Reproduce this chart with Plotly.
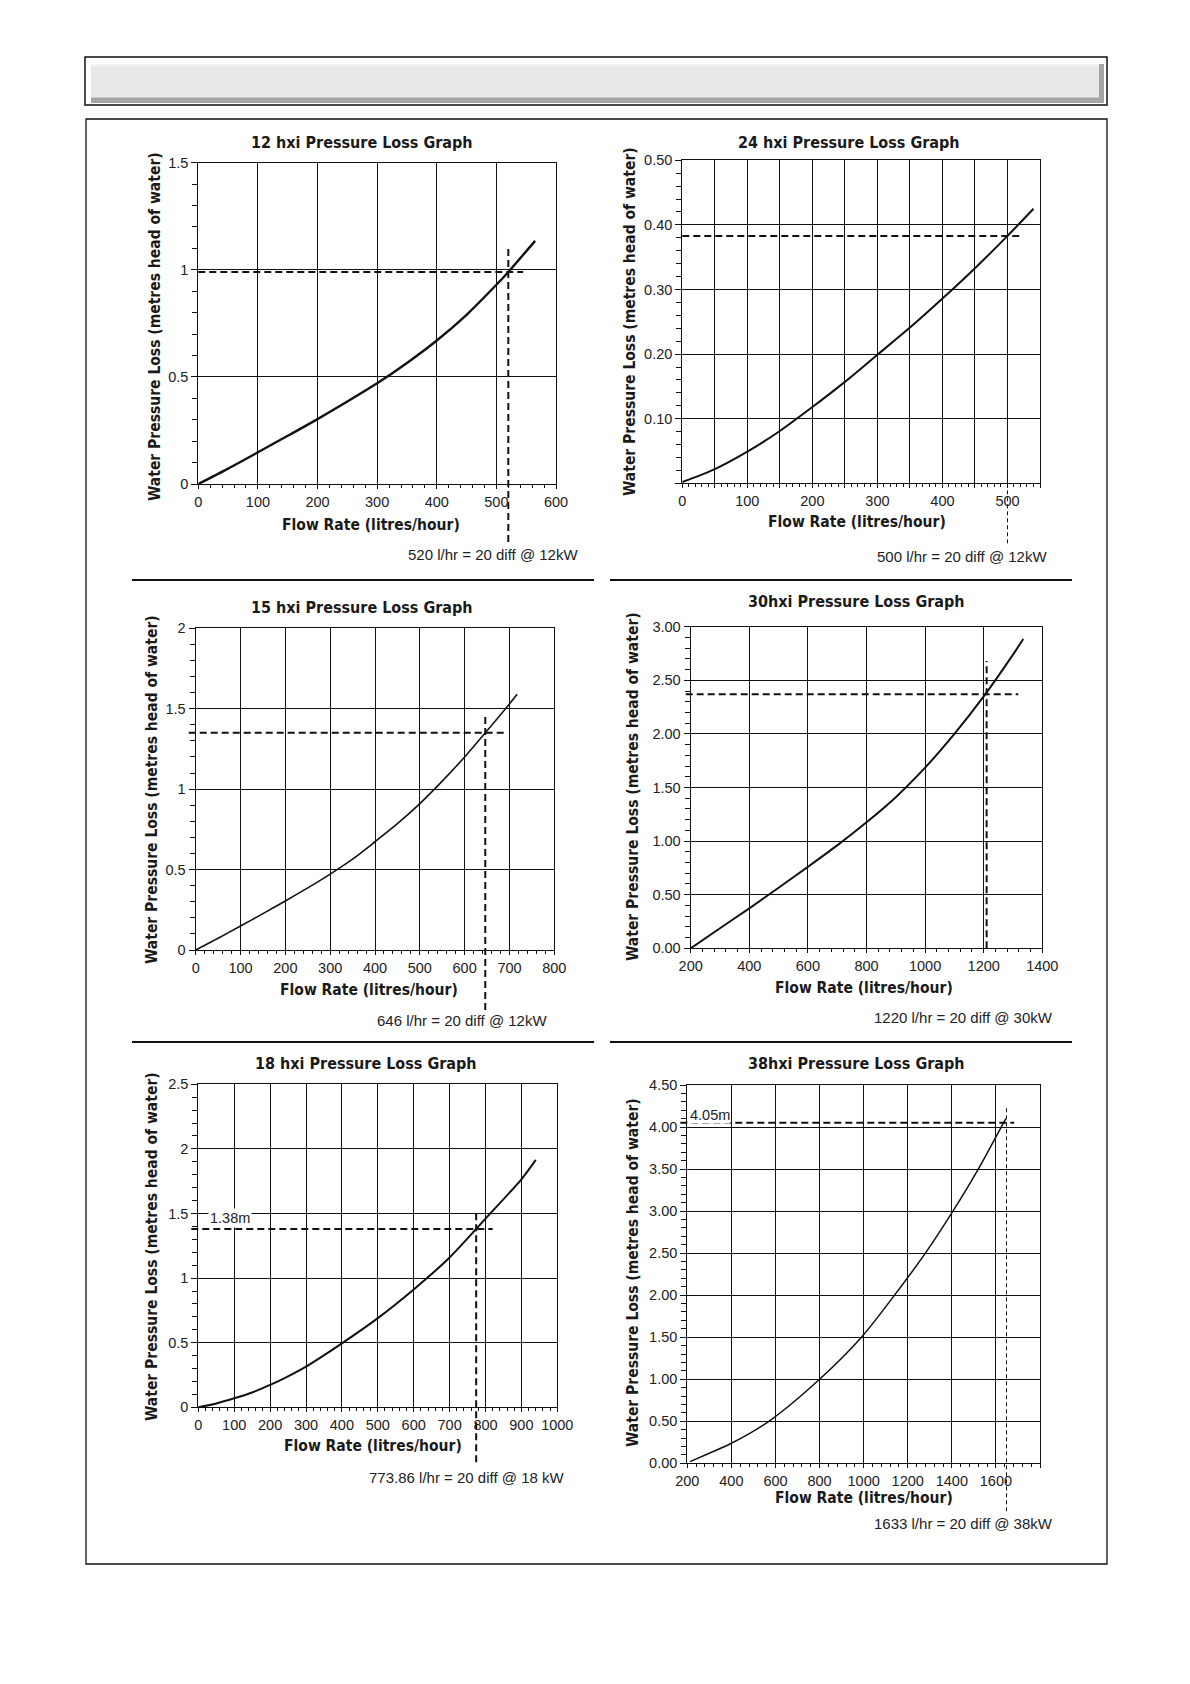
import plotly.graph_objects as go

# ---------------- data ----------------
flow_12 = [0, 50, 100, 150, 200, 250, 300, 350, 400, 450, 500, 520, 565]
loss_12 = [0, 0.072, 0.148, 0.225, 0.303, 0.385, 0.47, 0.565, 0.67, 0.79, 0.93, 0.99, 1.135]

flow_24 = [0, 50, 100, 150, 200, 250, 300, 350, 400, 450, 500, 540]
loss_24 = [0.002, 0.022, 0.049, 0.081, 0.118, 0.157, 0.199, 0.241, 0.286, 0.333, 0.383, 0.425]

flow_15 = [0, 50, 100, 150, 200, 250, 300, 350, 400, 450, 500, 550, 600, 646, 700, 717]
loss_15 = [0, 0.073, 0.149, 0.226, 0.305, 0.386, 0.472, 0.565, 0.673, 0.785, 0.91, 1.05, 1.2, 1.35, 1.53, 1.59]

flow_30 = [200, 300, 400, 500, 600, 700, 800, 900, 1000, 1100, 1200, 1300, 1335]
loss_30 = [0, 0.187, 0.373, 0.565, 0.76, 0.96, 1.175, 1.41, 1.685, 2.0, 2.35, 2.74, 2.885]

flow_18 = [0, 50, 100, 150, 200, 250, 300, 400, 500, 600, 700, 774, 800, 900, 940]
loss_18 = [0, 0.03, 0.07, 0.115, 0.173, 0.24, 0.315, 0.495, 0.69, 0.912, 1.16, 1.38, 1.46, 1.765, 1.915]

flow_38 = [212, 300, 400, 570, 800, 990, 1140, 1280, 1405, 1520, 1624, 1645]
loss_38 = [0.02, 0.12, 0.238, 0.5, 1.0, 1.5, 2.0, 2.5, 3.0, 3.5, 4.0, 4.1]

# design point guides: (flow, loss)
design_12 = (520, 0.99)
design_24 = (500, 0.383)
design_15 = (646, 1.35)
design_30 = (1210, 2.37)
design_18 = (774, 1.38)
design_38 = (1648, 4.05)

titles = ["12 hxi Pressure Loss Graph", "24 hxi Pressure Loss Graph",
          "15 hxi Pressure Loss Graph", "30hxi Pressure Loss Graph",
          "18 hxi Pressure Loss Graph", "38hxi Pressure Loss Graph"]
notes = ["520 l/hr = 20 diff @ 12kW", "500 l/hr = 20 diff @ 12kW",
         "646 l/hr = 20 diff @ 12kW", "1220 l/hr = 20 diff @ 30kW",
         "773.86 l/hr = 20 diff @ 18 kW", "1633 l/hr = 20 diff @ 38kW"]
x_title = "Flow Rate (litres/hour)"
y_title = "Water Pressure Loss (metres head of water)"

# tick values / labels
xt_12 = [0, 100, 200, 300, 400, 500, 600]
xl_12 = ["0", "100", "200", "300", "400", "500", "600"]
yt_12 = [0, 0.5, 1, 1.5]
yl_12 = ["0", "0.5", "1", "1.5"]

xt_24 = [0, 50, 100, 150, 200, 250, 300, 350, 400, 450, 500, 550]
xl_24 = ["0", "", "100", "", "200", "", "300", "", "400", "", "500", ""]
yt_24 = [0, 0.1, 0.2, 0.3, 0.4, 0.5]
yl_24 = ["", "0.10", "0.20", "0.30", "0.40", "0.50"]

xt_15 = [0, 100, 200, 300, 400, 500, 600, 700, 800]
xl_15 = ["0", "100", "200", "300", "400", "500", "600", "700", "800"]
yt_15 = [0, 0.5, 1, 1.5, 2]
yl_15 = ["0", "0.5", "1", "1.5", "2"]

xt_30 = [200, 400, 600, 800, 1000, 1200, 1400]
xl_30 = ["200", "400", "600", "800", "1000", "1200", "1400"]
yt_30 = [0, 0.5, 1, 1.5, 2, 2.5, 3]
yl_30 = ["0.00", "0.50", "1.00", "1.50", "2.00", "2.50", "3.00"]

xt_18 = [0, 100, 200, 300, 400, 500, 600, 700, 800, 900, 1000]
xl_18 = ["0", "100", "200", "300", "400", "500", "600", "700", "800", "900", "1000"]
yt_18 = [0, 0.5, 1, 1.5, 2, 2.5]
yl_18 = ["0", "0.5", "1", "1.5", "2", "2.5"]

xt_38 = [200, 400, 600, 800, 1000, 1200, 1400, 1600, 1800]
xl_38 = ["200", "400", "600", "800", "1000", "1200", "1400", "1600", ""]
yt_38 = [0, 0.5, 1, 1.5, 2, 2.5, 3, 3.5, 4, 4.5]
yl_38 = ["0.00", "0.50", "1.00", "1.50", "2.00", "2.50", "3.00", "3.50", "4.00", "4.50"]

label_18 = "1.38m"
label_38 = "4.05m"

# ---------------- layout helpers ----------------
W, H = 1190, 1684
OFF = 8  # page body margin offset
def PX(x):
    return (x - OFF) / W
def PY(y):
    return 1 - (y - OFF) / H

TITLE_FONT = dict(family="Liberation Sans Narrow, DejaVu Sans Condensed, Arial Narrow, sans-serif",
                  size=16, color="#1a1a1a")
AXT_FONT = dict(family="Liberation Sans Narrow, DejaVu Sans Condensed, Arial Narrow, sans-serif",
                size=15.5, color="#1a1a1a")
TICK_FONT = dict(family="Liberation Sans, Arial, Helvetica, sans-serif", size=14.5, color="#222222")
NOTE_FONT = dict(family="Liberation Sans, Arial, Helvetica, sans-serif", size=15, color="#222222")

panels = [
    dict(fx=flow_12, fy=loss_12, xt=xt_12, xl=xl_12, yt=yt_12, yl=yl_12,
         xr=[0, 600], yr=[0, 1.5], xminor=20, yminor=0.1,
         box=(198.3, 162.7, 556, 484), lw=2.4, design=design_12,
         h_start=0, h_end=545, v_top=1.1, v_ext=58, h_w=2, v_w=2, v_dash="7px,4px",
         title_xy=(362, 143), xt_xy=(371, 525), yt_xy=(155, 327), note_xy=(580, 554)),
    dict(fx=flow_24, fy=loss_24, xt=xt_24, xl=xl_24, yt=yt_24, yl=yl_24,
         xr=[0, 550], yr=[0, 0.5], xminor=10, yminor=0.02,
         box=(682.3, 160.3, 1040, 483.3), lw=2, design=design_24,
         h_start=0, h_end=523, v_top=0.397, v_ext=60, h_w=2, v_w=1, v_dash="4px,3px",
         title_xy=(849, 143), xt_xy=(857, 522), yt_xy=(630, 322), note_xy=(1049, 556)),
    dict(fx=flow_15, fy=loss_15, xt=xt_15, xl=xl_15, yt=yt_15, yl=yl_15,
         xr=[0, 800], yr=[0, 2], xminor=20, yminor=0.1,
         box=(195.7, 628.3, 554.3, 950), lw=1.6, design=design_15,
         h_start=-7, h_end=690, v_top=1.455, v_ext=60, h_w=2, v_w=2, v_dash="7px,4px",
         title_xy=(362, 607), xt_xy=(369, 990), yt_xy=(152, 790), note_xy=(549, 1020)),
    dict(fx=flow_30, fy=loss_30, xt=xt_30, xl=xl_30, yt=yt_30, yl=yl_30,
         xr=[200, 1400], yr=[0, 3], xminor=40, yminor=0.1,
         box=(690.7, 626.7, 1042.3, 948.3), lw=2, design=design_30,
         h_start=-5, h_end=1318, v_top=2.68, v_ext=0, h_w=2, v_w=2, v_dash="7px,4px",
         title_xy=(856, 602), xt_xy=(864, 988), yt_xy=(633, 787), note_xy=(1055, 1017)),
    dict(fx=flow_18, fy=loss_18, xt=xt_18, xl=xl_18, yt=yt_18, yl=yl_18,
         xr=[0, 1000], yr=[0, 2.5], xminor=20, yminor=0.1,
         box=(198.3, 1084.3, 557.3, 1407.3), lw=2, design=design_18,
         h_start=-7, h_end=820, v_top=1.5, v_ext=55, h_w=2, v_w=2, v_dash="7px,4px",
         title_xy=(366, 1063), xt_xy=(373, 1446), yt_xy=(152, 1247), note_xy=(566, 1477)),
    dict(fx=flow_38, fy=loss_38, xt=xt_38, xl=xl_38, yt=yt_38, yl=yl_38,
         xr=[200, 1800], yr=[0, 4.5], xminor=40, yminor=0.1,
         box=(687.3, 1085, 1040, 1463.3), lw=1.5, design=design_38,
         h_start=-7, h_end=1683, v_top=4.25, v_ext=48, h_w=2, v_w=1, v_dash="4px,3px",
         title_xy=(856, 1063), xt_xy=(864, 1498), yt_xy=(633, 1273), note_xy=(1055, 1523)),
]

fig = go.Figure()
layout = dict(width=W, height=H, autosize=False,
              margin=dict(l=0, r=0, t=0, b=0, pad=0, autoexpand=False),
              paper_bgcolor="white", plot_bgcolor="white", showlegend=False)
shapes = []
annotations = []

# header bar and frames
shapes.append(dict(type="rect", xref="paper", yref="paper", x0=PX(85), x1=PX(1107), y0=PY(57), y1=PY(105),
                   line=dict(color="#111111", width=1.5), fillcolor="white", layer="below"))
shapes.append(dict(type="rect", xref="paper", yref="paper", x0=PX(91), x1=PX(1104), y0=PY(64), y1=PY(103),
                   line=dict(width=0), fillcolor="#a6a6a6", layer="below"))
shapes.append(dict(type="rect", xref="paper", yref="paper", x0=PX(91), x1=PX(1099), y0=PY(64), y1=PY(97.5),
                   line=dict(width=0), fillcolor="#e8e8e8", layer="below"))
shapes.append(dict(type="rect", xref="paper", yref="paper", x0=PX(91), x1=PX(1099), y0=PY(64), y1=PY(66.5),
                   line=dict(width=0), fillcolor="#f2f2f2", layer="below"))
shapes.append(dict(type="rect", xref="paper", yref="paper", x0=PX(86), x1=PX(1107), y0=PY(119), y1=PY(1564),
                   line=dict(color="#111111", width=1.3), fillcolor="rgba(0,0,0,0)", layer="below"))
for yy in (580, 1042):
    shapes.append(dict(type="line", xref="paper", yref="paper", x0=PX(132), x1=PX(594), y0=PY(yy), y1=PY(yy),
                       line=dict(color="#111111", width=1.8)))
    shapes.append(dict(type="line", xref="paper", yref="paper", x0=PX(610), x1=PX(1072), y0=PY(yy), y1=PY(yy),
                       line=dict(color="#111111", width=1.8)))

for i, p in enumerate(panels):
    n = "" if i == 0 else str(i + 1)
    xa, ya = "x" + n, "y" + n
    xl_, yt_, xr_, yb_ = p["box"]
    fig.add_trace(go.Scatter(x=p["fx"], y=p["fy"], mode="lines", xaxis=xa, yaxis=ya,
                             line=dict(color="#111111", width=p["lw"], shape="spline", smoothing=0.8),
                             hoverinfo="skip"))
    common = dict(showgrid=True, gridcolor="#111111", gridwidth=1, zeroline=False,
                  showline=True, linecolor="#111111", linewidth=1.2, mirror=True,
                  ticks="outside", tickcolor="#111111", tickwidth=1, automargin=False,
                  tickmode="array", tickfont=TICK_FONT, fixedrange=True)
    layout["xaxis" + n] = dict(common, domain=[PX(xl_), PX(xr_)], range=p["xr"], anchor=ya,
                               tickvals=p["xt"], ticktext=p["xl"], ticklen=4,
                               minor=dict(tickmode="linear", tick0=p["xr"][0], dtick=p["xminor"],
                                          ticks="outside", ticklen=3, tickcolor="#111111", showgrid=False))
    layout["yaxis" + n] = dict(common, domain=[PY(yb_), PY(yt_)], range=p["yr"], anchor=xa,
                               tickvals=p["yt"], ticktext=p["yl"], ticklen=6,
                               minor=dict(tickmode="linear", tick0=0, dtick=p["yminor"],
                                          ticks="outside", ticklen=5, tickcolor="#111111", showgrid=False))
    # design point guides
    dx, dy = p["design"]
    wpx = xr_ - xl_
    hpx = yb_ - yt_
    xspan = p["xr"][1] - p["xr"][0]
    yspan = p["yr"][1] - p["yr"][0]
    shapes.append(dict(type="line", xref=xa + " domain", yref=ya,
                       x0=p["h_start"] / wpx, x1=(p["h_end"] - p["xr"][0]) / xspan, y0=dy, y1=dy,
                       line=dict(color="#111111", width=p["h_w"], dash="7px,4px")))
    shapes.append(dict(type="line", xref=xa, yref=ya + " domain",
                       x0=dx, x1=dx, y0=-p["v_ext"] / hpx, y1=(p["v_top"] - p["yr"][0]) / yspan,
                       line=dict(color="#111111", width=p["v_w"], dash=p["v_dash"])))
    # texts
    tx, ty = p["title_xy"]
    annotations.append(dict(text="<b>" + titles[i] + "</b>", x=PX(tx), y=PY(ty), xref="paper", yref="paper",
                            showarrow=False, font=TITLE_FONT, xanchor="center", yanchor="middle"))
    tx, ty = p["xt_xy"]
    annotations.append(dict(text="<b>" + x_title + "</b>", x=PX(tx), y=PY(ty), xref="paper", yref="paper",
                            showarrow=False, font=AXT_FONT, xanchor="center", yanchor="middle"))
    tx, ty = p["yt_xy"]
    annotations.append(dict(text="<b>" + y_title + "</b>", x=PX(tx), y=PY(ty), xref="paper", yref="paper",
                            showarrow=False, font=AXT_FONT, textangle=-90, xanchor="center", yanchor="middle"))
    tx, ty = p["note_xy"]
    annotations.append(dict(text=notes[i], x=PX(tx), y=PY(ty), xref="paper", yref="paper",
                            showarrow=False, font=NOTE_FONT, xanchor="right", yanchor="middle"))

annotations.append(dict(text=label_18, x=87, y=1.465, xref="x5", yref="y5", showarrow=False,
                        font=dict(TICK_FONT, size=14.5), bgcolor="white", borderpad=1,
                        xanchor="center", yanchor="middle"))
annotations.append(dict(text=label_38, x=303, y=4.14, xref="x6", yref="y6", showarrow=False,
                        font=dict(TICK_FONT, size=14.5), bgcolor="white", borderpad=0,
                        xanchor="center", yanchor="middle"))

layout["shapes"] = shapes
layout["annotations"] = annotations
fig.update_layout(**layout)
fig.write_html("out.html")
